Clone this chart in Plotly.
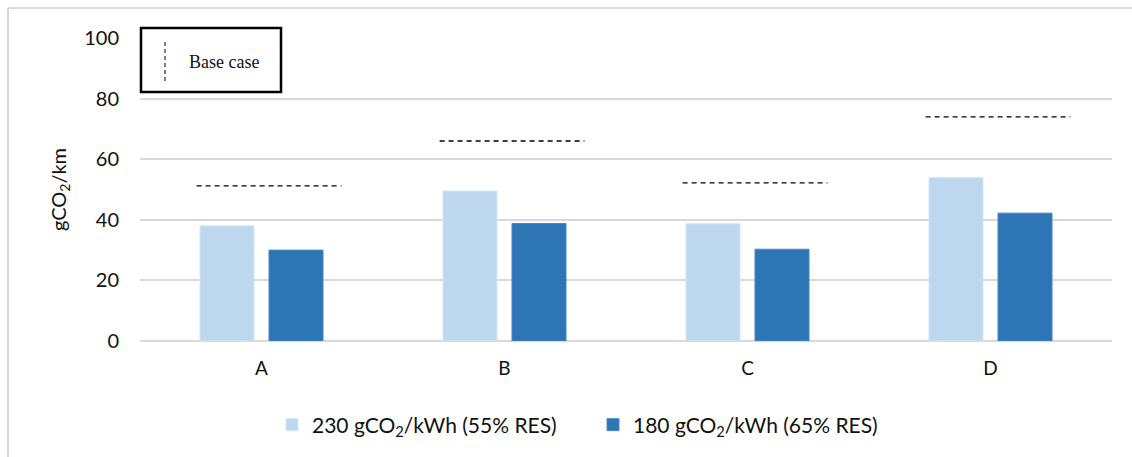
import plotly.graph_objects as go

# Scenario data
categories = ["A", "B", "C", "D"]
series_230 = [38.0, 49.5, 38.7, 54.0]
series_180 = [30.0, 38.8, 30.3, 42.2]
base_case = [51.2, 66.0, 52.2, 74.0]
name_230 = "230 gCO<sub>2</sub>/kWh (55% RES)"
name_180 = "180 gCO<sub>2</sub>/kWh (65% RES)"
y_ticks = [0, 20, 40, 60, 80, 100]

W, H = 1132, 457
L, R, T, B = 140, 20, 38, 116
pw, ph = W - L - R, H - T - B


def px_x(px):
    return (px - L) / pw


def px_y(py):
    return (H - B - py) / ph


pos = list(range(len(categories)))
font_main = "Lato, 'Open Sans', sans-serif"

fig = go.Figure()
fig.add_trace(go.Bar(x=pos, y=series_230, name=name_230,
                     marker=dict(color="#BDD7EE", line=dict(color="#D6E6F5", width=1))))
fig.add_trace(go.Bar(x=pos, y=series_180, name=name_180,
                     marker=dict(color="#2E75B6", line=dict(color="#4A88C2", width=1))))

# Base case reference segments above each group
bx, by = [], []
for i, v in zip(pos, base_case):
    bx += [i - 0.267, i + 0.329, None]
    by += [v, v, None]
fig.add_trace(go.Scatter(x=bx, y=by, mode="lines", showlegend=False,
                         line=dict(color="black", width=1.3, dash="5px,4px"),
                         hoverinfo="skip"))

shapes = [
    # outer chart frame (top and left edges)
    dict(type="line", xref="paper", yref="paper", x0=px_x(8), x1=px_x(W + 5),
         y0=px_y(8), y1=px_y(8), line=dict(color="#D9D9D9", width=2)),
    dict(type="line", xref="paper", yref="paper", x0=px_x(8), x1=px_x(8),
         y0=px_y(8), y1=px_y(H + 5), line=dict(color="#D9D9D9", width=2)),
    # base case key box
    dict(type="rect", xref="paper", yref="paper", x0=px_x(141), x1=px_x(281),
         y0=px_y(92), y1=px_y(28), line=dict(color="black", width=2.5),
         fillcolor="white", layer="above"),
    dict(type="line", xref="paper", yref="paper", x0=px_x(165), x1=px_x(165),
         y0=px_y(81), y1=px_y(40), line=dict(color="black", width=1, dash="4px,3px"),
         layer="above"),
]

annotations = [
    dict(text="Base case", xref="paper", yref="paper", x=px_x(187), y=px_y(62),
         xanchor="left", yanchor="middle", showarrow=False,
         font=dict(family="'Liberation Serif', 'DejaVu Serif', serif", size=18, color="#111")),
]

fig.update_layout(
    width=W, height=H,
    margin=dict(l=L, r=R, t=T, b=B),
    paper_bgcolor="white", plot_bgcolor="white",
    barmode="group", bargap=0.432, bargroupgap=0.217,
    font=dict(family=font_main, size=20, color="#111"),
    shapes=shapes, annotations=annotations,
    legend=dict(orientation="h", x=px_x(272), y=px_y(425), xanchor="left", yanchor="middle",
                font=dict(size=21, color="#111"), entrywidth=276, entrywidthmode="pixels",
                itemwidth=30, bgcolor="rgba(0,0,0,0)"),
    xaxis=dict(range=[-0.5, 3.5], tickmode="array", tickvals=pos, ticktext=categories,
               showgrid=False, zeroline=False, showline=False, ticks="",
               ticklabelstandoff=14, tickfont=dict(size=19), fixedrange=True),
    yaxis=dict(range=[0, 100], tickmode="array", tickvals=y_ticks,
               showgrid=True, gridcolor="#D9D9D9", gridwidth=1.5,
               zeroline=True, zerolinecolor="#D9D9D9", zerolinewidth=1.5,
               ticks="", ticklen=0, ticklabelstandoff=20, tickfont=dict(size=20),
               title=dict(text="gCO<sub>2</sub>/km", font=dict(size=20), standoff=12)),
)

fig.write_html("out.html")
